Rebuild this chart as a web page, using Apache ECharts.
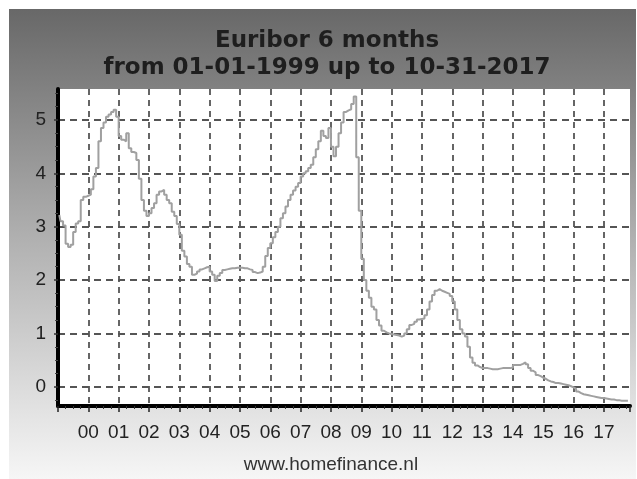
<!DOCTYPE html>
<html>
<head>
<meta charset="utf-8">
<script src="https://cdn.jsdelivr.net/npm/echarts@6/dist/echarts.min.js"></script>
<style>
  html, body { margin: 0; padding: 0; background: #fff; }
  #chart { width: 637px; height: 479px; }
</style>
</head>
<body>
<div id="chart"></div>
<script>
// Euribor 6 maanden, maandwaarden
const years = [1999, 2000, 2001, 2002, 2003, 2004, 2005, 2006, 2007, 2008,
  2009, 2010, 2011, 2012, 2013, 2014, 2015, 2016, 2017];

const v1999 = [3.22, 3.1, 3.02, 2.68, 2.62, 2.66, 2.9, 3.06, 3.1, 3.5, 3.56, 3.58];
const v2000 = [3.6, 3.7, 3.94, 4.1, 4.6, 4.85, 4.95, 5.06, 5.1, 5.15, 5.19, 5.06];
const v2001 = [4.7, 4.63, 4.6, 4.75, 4.47, 4.4, 4.38, 4.25, 3.9, 3.5, 3.3, 3.2];
const v2002 = [3.25, 3.35, 3.44, 3.6, 3.66, 3.69, 3.6, 3.5, 3.44, 3.28, 3.2, 3.05];
const v2003 = [2.85, 2.55, 2.44, 2.3, 2.25, 2.1, 2.12, 2.16, 2.2, 2.22, 2.24, 2.25];
const v2004 = [2.16, 2.1, 1.98, 2.08, 2.13, 2.19, 2.2, 2.21, 2.22, 2.22, 2.23, 2.23];
const v2005 = [2.23, 2.22, 2.22, 2.2, 2.19, 2.15, 2.13, 2.14, 2.16, 2.25, 2.45, 2.6];
const v2006 = [2.69, 2.8, 2.9, 3.0, 3.16, 3.25, 3.38, 3.5, 3.6, 3.68, 3.75, 3.82];
const v2007 = [3.94, 4.0, 4.04, 4.1, 4.16, 4.3, 4.45, 4.6, 4.8, 4.7, 4.66, 4.85];
const v2008 = [4.5, 4.32, 4.5, 4.75, 4.95, 5.15, 5.18, 5.2, 5.3, 5.44, 4.3, 3.3];
const v2009 = [2.4, 2.0, 1.8, 1.67, 1.5, 1.45, 1.25, 1.15, 1.05, 1.02, 1.0, 0.99];
const v2010 = [0.98, 0.97, 0.96, 0.94, 0.96, 1.0, 1.08, 1.16, 1.18, 1.22, 1.26, 1.27];
const v2011 = [1.28, 1.34, 1.45, 1.6, 1.72, 1.8, 1.83, 1.8, 1.78, 1.76, 1.74, 1.7];
const v2012 = [1.6, 1.45, 1.25, 1.08, 1.0, 0.94, 0.75, 0.55, 0.45, 0.4, 0.37, 0.35];
const v2013 = [0.35, 0.35, 0.34, 0.33, 0.33, 0.33, 0.34, 0.35, 0.35, 0.35, 0.35, 0.36];
const v2014 = [0.41, 0.41, 0.41, 0.43, 0.46, 0.42, 0.35, 0.3, 0.27, 0.22, 0.2, 0.17];
const v2015 = [0.15, 0.12, 0.1, 0.09, 0.07, 0.07, 0.06, 0.05, 0.04, 0.03, 0.01, -0.01];
const v2016 = [-0.04, -0.09, -0.12, -0.14, -0.15, -0.16, -0.17, -0.18, -0.19, -0.2, -0.21, -0.21];
const v2017 = [-0.22, -0.23, -0.24, -0.24, -0.25, -0.25, -0.26, -0.26, -0.26, -0.26];

const xTickLabels = ['00', '01', '02', '03', '04', '05', '06', '07', '08', '09',
  '10', '11', '12', '13', '14', '15', '16', '17'];
const yTickValues = [0, 1, 2, 3, 4, 5];
const titleLines = ['Euribor 6 months', 'from 01-01-1999 up to 10-31-2017'];
const footerText = 'www.homefinance.nl';

const yearly = [v1999, v2000, v2001, v2002, v2003, v2004, v2005, v2006, v2007, v2008,
  v2009, v2010, v2011, v2012, v2013, v2014, v2015, v2016, v2017];

// punten op het midden van elke maand
const seriesData = [];
yearly.forEach((vals, i) => {
  vals.forEach((v, m) => seriesData.push([years[i] + (m + 0.5) / 12, v]));
});

// kleine streepjes op de y-as, elk kwart
const yMinorTicks = [];
for (let q = -1; q <= 22; q++) {
  if (q % 4 !== 0) yMinorTicks.push(q / 4);
}

const chart = echarts.init(document.getElementById('chart'));

const titleFont = 'bold 23px "DejaVu Sans", Verdana, sans-serif';

const option = {
  animation: false,
  graphic: [
    {
      type: 'rect',
      z: -10,
      silent: true,
      shape: { x: 9, y: 9, width: 627, height: 470 },
      style: {
        fill: new echarts.graphic.LinearGradient(0, 0, 0, 1, [
          { offset: 0, color: '#686868' },
          { offset: 0.5, color: '#b2b2b2' },
          { offset: 1, color: '#f6f6f6' },
        ]),
      },
    },
    {
      type: 'text',
      x: 327,
      y: 41,
      style: { text: titleLines[0], font: titleFont, fill: '#1e1e1e', align: 'center', verticalAlign: 'middle' },
    },
    {
      type: 'text',
      x: 327,
      y: 68,
      style: { text: titleLines[1], font: titleFont, fill: '#1e1e1e', align: 'center', verticalAlign: 'middle' },
    },
    {
      type: 'text',
      x: 331,
      y: 465,
      style: {
        text: footerText,
        font: '19px "Liberation Sans", Arial, sans-serif',
        fill: '#333',
        align: 'center',
        verticalAlign: 'middle',
      },
    },
  ],
  grid: {
    left: 58,
    top: 89,
    right: 7,
    bottom: 73,
    show: true,
    backgroundColor: '#fff',
    borderWidth: 0,
  },
  xAxis: {
    type: 'value',
    min: 1999,
    max: 2017.86,
    interval: 1,
    axisLine: { show: true, onZero: false, lineStyle: { color: '#000', width: 4 } },
    axisTick: { show: true, length: 6, lineStyle: { color: '#222', width: 1.5 } },
    minorTick: { show: true, splitNumber: 4, length: 3, lineStyle: { color: '#333', width: 1 } },
    axisLabel: {
      margin: 17,
      fontFamily: '"Liberation Sans", Arial, sans-serif',
      fontSize: 19,
      color: '#222',
      showMinLabel: false,
      showMaxLabel: false,
      formatter: (v) => {
        const idx = Math.round(v) - 2000;
        return Math.abs(v - Math.round(v)) < 1e-6 && idx >= 0 ? xTickLabels[idx] : '';
      },
    },
    splitLine: {
      show: true,
      showMinLine: false,
      showMaxLine: false,
      lineStyle: { color: '#555', width: 1.8, type: [6, 5] },
    },
  },
  yAxis: [
    {
      type: 'value',
      min: -0.36,
      max: 5.58,
      axisLine: { show: true, lineStyle: { color: '#000', width: 4 } },
      axisTick: { show: true, length: 4, customValues: yTickValues, lineStyle: { color: '#333', width: 1.5 } },
      axisLabel: {
        customValues: yTickValues,
        margin: 12,
        fontFamily: '"Liberation Sans", Arial, sans-serif',
        fontSize: 19,
        color: '#222',
      },
      splitLine: {
        show: true,
        lineStyle: { color: '#555', width: 1.8, type: [7, 5] },
      },
    },
    {
      type: 'value',
      min: -0.36,
      max: 5.58,
      position: 'left',
      axisLine: { show: false },
      axisTick: { show: true, length: 3, customValues: yMinorTicks, lineStyle: { color: '#444', width: 1 } },
      axisLabel: { show: false },
      splitLine: { show: false },
    },
  ],
  series: [
    {
      name: 'Euribor 6 months',
      type: 'line',
      step: 'middle',
      data: seriesData,
      showSymbol: false,
      lineStyle: { color: '#a0a0a0', width: 2 },
      itemStyle: { color: '#a0a0a0' },
      z: 3,
    },
  ],
};

chart.setOption(option);
</script>
</body>
</html>
